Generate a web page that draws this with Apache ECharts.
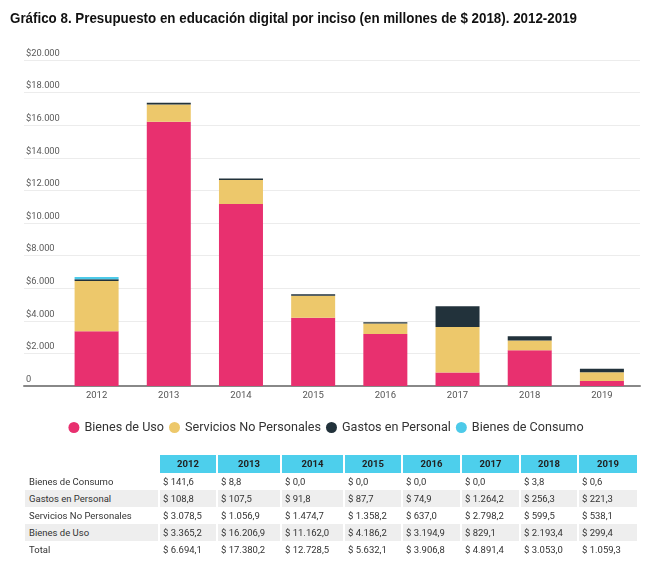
<!DOCTYPE html>
<html><head><meta charset="utf-8">
<script src="https://cdn.jsdelivr.net/npm/echarts@6/dist/echarts.min.js"></script>
<style>
html,body{margin:0;padding:0;background:#fff;}
#wrap{position:relative;width:652px;height:568px;overflow:hidden;}
#chart{position:absolute;left:0;top:0;width:652px;height:568px;}
#table{position:absolute;left:0;top:0;width:652px;height:568px;font-family:Roboto,sans-serif;color:#333;}
#title{position:absolute;left:10px;top:9px;font-family:'Liberation Sans',Arial,sans-serif;font-weight:bold;font-size:15px;color:#111;white-space:nowrap;transform-origin:0 0;line-height:18px;}
.c{position:absolute;box-sizing:border-box;font-size:9.5px;line-height:17px;height:17px;white-space:nowrap;}
</style></head>
<body><div id="wrap"><div id="chart"></div><div id="table"></div><div id="title"></div></div>
<script>
const titleText = 'Gráfico 8. Presupuesto en educación digital por inciso (en millones de $ 2018). 2012-2019';
const years = ['2012','2013','2014','2015','2016','2017','2018','2019'];
const bienesUso = [3365.2, 16206.9, 11162.0, 4186.2, 3194.9, 829.1, 2193.4, 299.4];
const serviciosNoPers = [3078.5, 1056.9, 1474.7, 1358.2, 637.0, 2798.2, 599.5, 538.1];
const gastosPersonal = [108.8, 107.5, 91.8, 87.7, 74.9, 1264.2, 256.3, 221.3];
const bienesConsumo = [141.6, 8.8, 0.0, 0.0, 0.0, 0.0, 3.8, 0.6];
const totales = [6694.1, 17380.2, 12728.5, 5632.1, 3906.8, 4891.4, 3053.0, 1059.3];
const yTicks = ['0','$2.000','$4.000','$6.000','$8.000','$10.000','$12.000','$14.000','$16.000','$18.000','$20.000'];

const colors = {uso:'#E8306F', serv:'#EDC86B', gastos:'#22323B', cons:'#4DCAE9'};

const tEl = document.getElementById('title');
tEl.textContent = titleText;
const tw = tEl.getBoundingClientRect().width;
tEl.style.transform = 'scaleX(' + (567/tw) + ')';

const chart = echarts.init(document.getElementById('chart'));
const font = 'Roboto';
function mk(name, data, color){
  return {name, type:'bar', stack:'t', xAxisIndex:0, yAxisIndex:0, data, barWidth:44,
    itemStyle:{color}, emphasis:{disabled:true}};
}
chart.setOption({
  animation:false,
  color:[colors.uso, colors.serv, colors.gastos, colors.cons],
  legend:{data:['Bienes de Uso','Servicios No Personales','Gastos en Personal','Bienes de Consumo'],
    top:416, left:'center', icon:'circle', itemWidth:11, itemHeight:11, itemGap:5,
    textStyle:{fontFamily:font, fontSize:12.6, color:'#333'}},
  grid:[
    {left:60.5, right:14, top:60, bottom:182},
    {left:24, right:12, top:60, bottom:182}
  ],
  xAxis:[
    {type:'category', gridIndex:0, data:years, axisLine:{show:false}, axisTick:{show:false},
      axisLabel:{fontFamily:font, fontSize:9.5, color:'#555', margin:5}},
    {type:'value', gridIndex:1, min:0, max:1, axisLine:{show:true, onZero:false, lineStyle:{color:'#888', width:2}},
      axisTick:{show:false}, axisLabel:{show:false}, splitLine:{show:false}}
  ],
  yAxis:[
    {type:'value', gridIndex:0, min:0, max:20000, interval:2000, show:false},
    {type:'value', gridIndex:1, min:0, max:20000, interval:2000, axisLine:{show:false}, axisTick:{show:false},
      splitLine:{lineStyle:{color:'#ececec', width:1}},
      axisLabel:{inside:true, margin:2, verticalAlign:'bottom', padding:[0,0,2,0], fontFamily:font, fontSize:9.3, color:'#5a5a5a',
        formatter:(v)=>yTicks[Math.round(v/2000)]}}
  ],
  series:[
    mk('Bienes de Uso', bienesUso, colors.uso),
    mk('Servicios No Personales', serviciosNoPers, colors.serv),
    mk('Gastos en Personal', gastosPersonal, colors.gastos),
    mk('Bienes de Consumo', bienesConsumo, colors.cons)
  ]
});

// table
function fmt(v){
  const s = v.toFixed(1).split('.');
  const ip = s[0].replace(/\B(?=(\d{3})+(?!\d))/g,'.');
  return '$ ' + ip + ',' + s[1];
}
const rowNames = ['Bienes de Consumo','Gastos en Personal','Servicios No Personales','Bienes de Uso','Total'];
const rowData = [bienesConsumo, gastosPersonal, serviciosNoPers, bienesUso, totales];
const colLeft = [160,218,282,345,403,462,521,579,639];
const headTop = 455, rowH = 17;
const T = document.getElementById('table');
function cell(x,y,w,txt,style){
  const d=document.createElement('div'); d.className='c';
  d.style.left=x+'px'; d.style.top=y+'px'; d.style.width=w+'px';
  d.textContent=txt; Object.assign(d.style, style||{}); T.appendChild(d);
}
years.forEach((y,i)=>{
  cell(colLeft[i], headTop, colLeft[i+1]-colLeft[i]-2, y, {background:'#4DCFEC', textAlign:'center', fontWeight:'bold', fontSize:'9.5px', color:'#222', height:'18px', lineHeight:'18px'});
});
rowNames.forEach((n,r)=>{
  const top = headTop + 18 + r*rowH;
  const bg = (r===1||r===3) ? '#eeeeee' : 'transparent';
  cell(25, top, colLeft[0]-2-25, n, {background:bg, paddingLeft:'4px'});
  rowData[r].forEach((v,i)=>{
    cell(colLeft[i], top, colLeft[i+1]-colLeft[i]-2, fmt(v), {background:bg, paddingLeft:'3px'});
  });
});
</script></body></html>
